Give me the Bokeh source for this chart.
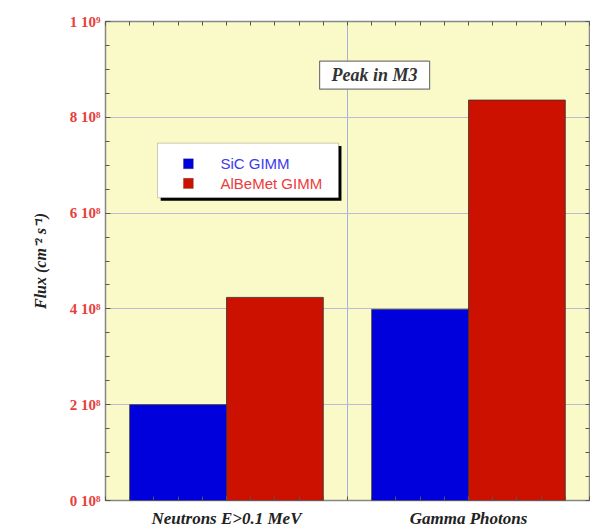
import numpy as np
from bokeh.plotting import figure
from bokeh.models import (Range1d, FixedTicker, LinearAxis, Label, BoxAnnotation,
                          ColumnDataSource)
from bokeh.transform import dodge
from bokeh.embed import file_html
from bokeh.resources import INLINE

categories = ["Neutrons E>0.1 MeV", "Gamma Photons"]
series_names = ["SiC GIMM", "AlBeMet GIMM"]
sic_flux = [2.0e8, 3.99e8]
albemet_flux = [4.24e8, 8.36e8]
y_ticks = [0, 2e8, 4e8, 6e8, 8e8, 1e9]
y_tick_labels = ["0 10⁸", "2 10⁸", "4 10⁸", "6 10⁸", "8 10⁸", "1 10⁹"]
bar_colors = ["#0000dd", "#cc1100"]
legend_text_colors = ["#3a3aee", "#ee3a3a"]

xc = np.arange(len(categories)) + 0.5
src = ColumnDataSource(dict(x=xc, sic=sic_flux, albe=albemet_flux))

p = figure(width=590, height=530, output_backend="svg", toolbar_location=None,
           x_range=Range1d(0, len(categories)), y_range=Range1d(0, 1e9),
           min_border_left=105, min_border_right=1, min_border_top=21,
           min_border_bottom=28)
p.background_fill_color = "#fafac8"
p.border_fill_color = "white"
p.outline_line_color = "#888888"
p.outline_line_width = 1.5

p.vbar(x=dodge("x", -0.2, range=p.x_range), top="sic", width=0.4, source=src,
       fill_color=bar_colors[0], line_color="#333333", line_width=0.8)
p.vbar(x=dodge("x", 0.2, range=p.x_range), top="albe", width=0.4, source=src,
       fill_color=bar_colors[1], line_color="#333333", line_width=0.8)

serif = "Liberation Serif"
x_minor = list(np.round(np.arange(0, len(categories) + 0.001, 0.1), 3))
y_minor = list(np.arange(0, 1e9 + 1, 0.5e8))

# bottom axis
xa = p.xaxis[0]
xa.ticker = FixedTicker(ticks=list(xc), minor_ticks=x_minor)
xa.major_label_overrides = {float(v): c for v, c in zip(xc, categories)}
xa.major_label_text_font = serif
xa.major_label_text_font_style = "bold italic"
xa.major_label_text_font_size = "17px"
xa.major_label_text_color = "#222222"
xa.major_tick_in = 4
xa.major_tick_out = 0
xa.minor_tick_in = 4
xa.minor_tick_out = 0
xa.major_label_standoff = 8
xa.axis_line_color = None
xa.major_tick_line_color = "#555555"
xa.minor_tick_line_color = "#555555"

# left axis
ya = p.yaxis[0]
ya.ticker = FixedTicker(ticks=y_ticks, minor_ticks=y_minor)
ya.major_label_overrides = {float(v): t for v, t in zip(y_ticks, y_tick_labels)}
ya.major_label_text_font = serif
ya.major_label_text_font_style = "bold"
ya.major_label_text_font_size = "15px"
ya.major_label_text_color = "#e8403a"
ya.major_tick_in = 5
ya.major_tick_out = 0
ya.minor_tick_in = 4
ya.minor_tick_out = 0
ya.major_label_standoff = 5
ya.axis_line_color = None
ya.major_tick_line_color = "#555555"
ya.minor_tick_line_color = "#555555"
ya.axis_label = "Flux (cm⁻² s⁻¹)"
ya.axis_label_text_font = serif
ya.axis_label_text_font_style = "bold italic"
ya.axis_label_text_font_size = "16px"
ya.axis_label_text_color = "#222222"
ya.axis_label_standoff = 18

# mirrored top / right axes (ticks only)
top = LinearAxis(ticker=FixedTicker(ticks=[], minor_ticks=x_minor),
                 minor_tick_in=4, minor_tick_out=0, axis_line_color=None,
                 major_label_standoff=0, minor_tick_line_color="#555555")
right = LinearAxis(ticker=FixedTicker(ticks=[], minor_ticks=y_minor),
                   minor_tick_in=4, minor_tick_out=0, axis_line_color=None,
                   major_label_standoff=0, minor_tick_line_color="#555555")
p.add_layout(top, "above")
p.add_layout(right, "right")

# grid
p.xgrid.ticker = FixedTicker(ticks=[1.0])
p.xgrid.grid_line_color = "#aab0dd"
p.xgrid.grid_line_width = 1
p.ygrid.ticker = FixedTicker(ticks=y_ticks[1:-1])
p.ygrid.grid_line_color = "#b8bcd8"
p.ygrid.grid_line_width = 1.2

# "Peak in M3" annotation
p.add_layout(Label(x=1.112, y=0.888e9, text="Peak in M3", text_align="center",
                   text_baseline="middle", text_font=serif,
                   text_font_style="bold italic", text_font_size="18px",
                   text_color="#333333", background_fill_color="white",
                   border_line_color="#777777", border_line_width=1.2,
                   padding=dict(left=12, right=12, top=4, bottom=4)))

# legend (manual)
p.add_layout(BoxAnnotation(left=0.228, right=0.975, top=0.740e9, bottom=0.626e9,
                           fill_color="black", fill_alpha=1, line_color=None,
                           level="overlay"))
p.add_layout(BoxAnnotation(left=0.215, right=0.963, top=0.746e9, bottom=0.632e9,
                           fill_color="white", fill_alpha=1, line_color="#555555",
                           line_width=1, level="overlay"))
sq_y = [0.703e9, 0.662e9]
for i in range(len(series_names)):
    p.add_layout(BoxAnnotation(left=0.322, right=0.363, top=sq_y[i] + 0.0105e9,
                               bottom=sq_y[i] - 0.0105e9, fill_color=bar_colors[i],
                               fill_alpha=1, line_color="#333333", line_width=0.8,
                               level="overlay"))
    p.add_layout(Label(x=0.475, y=sq_y[i], text=series_names[i],
                       text_baseline="middle", text_font="Liberation Sans",
                       text_font_size="15px", text_color=legend_text_colors[i],
                       level="overlay"))

open("out.html", "w").write(file_html(p, INLINE))
